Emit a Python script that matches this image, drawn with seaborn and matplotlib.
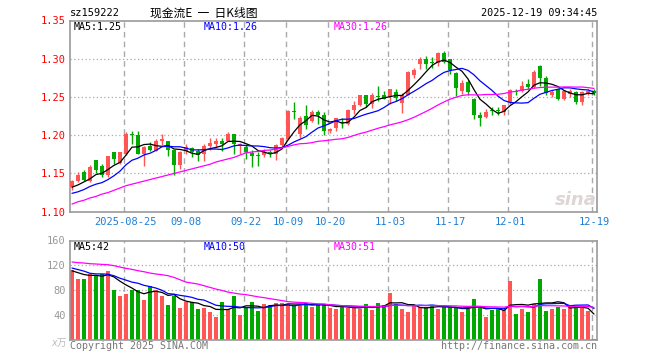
import matplotlib
matplotlib.use("Agg")
import matplotlib.pyplot as plt
import seaborn as sns
import numpy as np
import pandas as pd

# daily bars, 2025-08-12 .. 2025-12-19 (88 trading days)
opens = [1.132, 1.140, 1.152, 1.140, 1.167, 1.160, 1.148, 1.178, 1.164, 1.175,
         1.201, 1.200, 1.175, 1.186, 1.180, 1.192, 1.193, 1.181, 1.161, 1.180,
         1.183, 1.180, 1.175, 1.186, 1.189, 1.192, 1.192, 1.202, 1.186, 1.185,
         1.177, 1.1735, 1.174, 1.178, 1.176, 1.187, 1.195, 1.232, 1.201, 1.225,
         1.219, 1.231, 1.226, 1.205, 1.210, 1.2165, 1.215, 1.233, 1.240, 1.252,
         1.241, 1.251, 1.252, 1.250, 1.256, 1.242, 1.253, 1.279, 1.293, 1.300,
         1.2955, 1.295, 1.308, 1.300, 1.281, 1.258, 1.270, 1.248, 1.226, 1.224,
         1.2325, 1.233, 1.230, 1.243, 1.258, 1.258, 1.267, 1.263, 1.291, 1.275,
         1.253, 1.260, 1.248, 1.254, 1.256, 1.244, 1.254, 1.258]
highs = [1.142, 1.152, 1.154, 1.161, 1.167, 1.162, 1.173, 1.178, 1.178, 1.204,
         1.205, 1.205, 1.186, 1.191, 1.195, 1.202, 1.193, 1.181, 1.180, 1.188,
         1.185, 1.182, 1.188, 1.196, 1.197, 1.197, 1.204, 1.202, 1.190, 1.188,
         1.181, 1.178, 1.182, 1.181, 1.189, 1.198, 1.233, 1.243, 1.225, 1.239,
         1.233, 1.233, 1.230, 1.209, 1.223, 1.222, 1.234, 1.245, 1.253, 1.253,
         1.255, 1.265, 1.258, 1.261, 1.260, 1.255, 1.284, 1.288, 1.302, 1.304,
         1.302, 1.309, 1.310, 1.300, 1.283, 1.272, 1.272, 1.249, 1.231, 1.234,
         1.237, 1.237, 1.240, 1.260, 1.261, 1.271, 1.273, 1.285, 1.292, 1.277,
         1.259, 1.262, 1.259, 1.260, 1.258, 1.258, 1.261, 1.261]
lows = [1.128, 1.139, 1.140, 1.139, 1.151, 1.146, 1.146, 1.163, 1.162, 1.174,
        1.189, 1.175, 1.160, 1.179, 1.179, 1.187, 1.173, 1.148, 1.156, 1.176,
        1.172, 1.166, 1.166, 1.181, 1.185, 1.179, 1.192, 1.175, 1.175, 1.169,
        1.158, 1.160, 1.171, 1.172, 1.168, 1.185, 1.194, 1.221, 1.196, 1.208,
        1.217, 1.215, 1.200, 1.203, 1.206, 1.210, 1.214, 1.228, 1.238, 1.237,
        1.236, 1.245, 1.247, 1.241, 1.245, 1.229, 1.252, 1.275, 1.286, 1.286,
        1.288, 1.291, 1.295, 1.280, 1.251, 1.254, 1.252, 1.221, 1.212, 1.222,
        1.226, 1.226, 1.226, 1.241, 1.252, 1.256, 1.260, 1.262, 1.265, 1.252,
        1.250, 1.246, 1.246, 1.250, 1.241, 1.240, 1.252, 1.252]
closes = [1.140, 1.148, 1.142, 1.159, 1.154, 1.148, 1.173, 1.169, 1.178, 1.202,
          1.200, 1.175, 1.184, 1.181, 1.192, 1.195, 1.181, 1.161, 1.178, 1.184,
          1.178, 1.174, 1.186, 1.190, 1.192, 1.189, 1.202, 1.188, 1.188, 1.178,
          1.173, 1.173, 1.178, 1.176, 1.187, 1.196, 1.232, 1.231, 1.222, 1.214,
          1.231, 1.227, 1.206, 1.208, 1.222, 1.216, 1.233, 1.239, 1.252, 1.241,
          1.253, 1.250, 1.248, 1.260, 1.249, 1.253, 1.283, 1.285, 1.300, 1.293,
          1.295, 1.307, 1.296, 1.285, 1.262, 1.268, 1.257, 1.226, 1.222, 1.231,
          1.232, 1.232, 1.239, 1.259, 1.257, 1.265, 1.263, 1.283, 1.275, 1.255,
          1.257, 1.248, 1.258, 1.258, 1.244, 1.256, 1.258, 1.255]
# volume in 万 (10k)
volume = [112.8, 98.2, 98.2, 105.8, 103.6, 105.8, 110.1, 80.3, 71.1, 73.8,
          80.3, 80.3, 64.1, 85.7, 79.2, 71.1, 56.0, 71.1, 51.6, 60.3,
          61.1, 49.5, 51.6, 44.1, 37.0, 60.0, 49.5, 69.5, 39.8, 53.3,
          60.0, 46.3, 57.6, 56.0, 58.4, 58.4, 57.6, 56.0, 56.0, 58.4,
          53.3, 56.0, 56.0, 51.6, 49.5, 53.3, 51.6, 51.6, 49.5, 57.6,
          47.9, 59.2, 56.0, 75.5, 57.0, 49.5, 44.1, 54.6, 53.3, 53.3,
          54.6, 49.5, 53.3, 51.6, 51.6, 44.1, 49.5, 65.7, 51.6, 37.0,
          47.9, 49.5, 47.9, 94.9, 41.4, 49.5, 44.1, 57.6, 98.2, 46.3,
          49.5, 53.3, 49.5, 56.0, 50.8, 50.8, 46.3, 1.5]

# moving-average values for the first days (history before the window)
price_ma5_head = [1.132, 1.135, 1.139, 1.143]
price_ma10_head = [1.124, 1.126, 1.129, 1.133, 1.136, 1.138, 1.142, 1.147, 1.153]
price_ma30_head = [1.110, 1.113, 1.115, 1.118, 1.120, 1.123, 1.125, 1.128, 1.131, 1.134,
                   1.136, 1.138, 1.140, 1.142, 1.144, 1.146, 1.148, 1.150, 1.152, 1.154,
                   1.156, 1.158, 1.160, 1.162, 1.165, 1.167, 1.169, 1.171, 1.174]
vol_ma5_head = [111.0, 108.0, 105.0, 103.5]
vol_ma10_head = [115.5, 113.0, 110.5, 107.0, 106.0, 106.0, 105.5, 103.0, 99.0]
vol_ma30_head = [125.3, 124.2, 123.6, 122.5, 122.0, 121.4, 120.9, 119.3, 117.1, 115.0,
                 113.3, 111.2, 109.5, 107.4, 105.8, 104.7, 103.1, 100.4, 96.6, 92.8,
                 91.2, 89.6, 86.9, 84.2, 81.5, 79.3, 76.6, 75.0, 73.4]

tick_pos = [9, 19, 29, 36, 43, 53, 63, 73, 87]
tick_labels = ['2025-08-25', '09-08', '09-22', '10-09', '10-20',
               '11-03', '11-17', '12-01', '12-19']

RED = '#FF5555'
GREEN = '#00A800'
GRID = '#AAAAAA'
W, H = 660, 360


def moving(values, n, head):
    s = pd.Series(values).rolling(n).mean().to_numpy()
    s[:n - 1] = head
    return s


def draw_grid(ax, yticks):
    for t in tick_pos:
        ax.axvline(t - 0.3, color=GRID, lw=1.0, ls=(0, (4, 3)), zorder=0)
    for y in yticks:
        ax.axhline(y, color=GRID, lw=0.9, ls=(0, (1, 2)), zorder=0)
    for s in ax.spines.values():
        s.set_color('#999999')
        s.set_linewidth(1.2)
    ax.tick_params(length=0)


sns.set_style("white")
plt.rcParams['font.family'] = ['DejaVu Sans Mono', 'Noto Sans CJK SC']

idx = np.arange(len(closes))
o, h, l, c = map(np.array, (opens, highs, lows, closes))
up = c >= o
colors = np.where(up, RED, GREEN)

fig = plt.figure(figsize=(6.6, 3.6), dpi=100)
ax = fig.add_axes([70 / W, 1 - 211.7 / H, 527 / W, 191.2 / H])
axv = fig.add_axes([70 / W, 1 - 339.5 / H, 527 / W, 99 / H])

# candles
ax.vlines(idx, l, h, colors=colors, lw=1.0, zorder=2)
body = np.maximum(np.abs(c - o), 0.0013)
ax.bar(idx, body, bottom=np.minimum(o, c), width=0.78, color=colors, lw=0, zorder=3)

for ma, col in [(moving(closes, 5, price_ma5_head), 'black'),
                (moving(closes, 10, price_ma10_head), '#0000FF'),
                (moving(closes, 30, price_ma30_head), '#FF00FF')]:
    sns.lineplot(x=idx, y=ma, color=col, lw=0.9, ax=ax, zorder=4)

ax.set_xlim(-0.33, 87.5)
ax.set_ylim(1.10, 1.35)
ax.set_yticks(np.arange(1.10, 1.351, 0.05))
ax.set_yticklabels([f'{v:.2f}' for v in np.arange(1.10, 1.351, 0.05)],
                   color='#FF0000', fontsize=7.5)
ax.set_xticks(tick_pos)
ax.set_xticklabels(tick_labels, color='#1E7FD6', fontsize=7.5)
ax.tick_params(axis='x', pad=4)
ax.tick_params(axis='y', pad=3)
draw_grid(ax, [1.15, 1.20, 1.25, 1.30])

# volume
axv.bar(idx, volume, width=0.8, color=colors, lw=0, zorder=2)
for ma, col in [(moving(volume, 5, vol_ma5_head), 'black'),
                (moving(volume, 10, vol_ma10_head), '#0000FF'),
                (moving(volume, 30, vol_ma30_head), '#FF00FF')]:
    sns.lineplot(x=idx, y=ma, color=col, lw=0.9, ax=axv, zorder=4)
axv.set_xlim(-0.33, 87.5)
axv.set_ylim(0, 160)
axv.set_yticks([40, 80, 120, 160])
axv.set_yticklabels(['40', '80', '120', '160'], color='#999999', fontsize=7.5)
axv.set_xticks([])
axv.tick_params(axis='y', pad=3)
draw_grid(axv, [40, 80, 120])


def ftext(x, y, s, **kw):
    fig.text(x / W, 1 - y / H, s, va='center', **kw)


ftext(70, 13, 'sz159222', fontsize=7.5, color='black')
ftext(150, 13, '现金流E  一  日K线图', fontsize=8.5, color='black',
      family=['Noto Sans CJK SC', 'DejaVu Sans'])
ftext(597, 13, '2025-12-19 09:34:45', fontsize=7.3, color='black', ha='right')

ftext(74, 27, 'MA5:1.25', fontsize=7.2, color='black')
ftext(204, 27, 'MA10:1.26', fontsize=7.2, color='#0000FF')
ftext(334, 27, 'MA30:1.26', fontsize=7.2, color='#FF00FF')
ftext(74, 247, 'MA5:42', fontsize=7.2, color='black')
ftext(204, 247, 'MA10:50', fontsize=7.2, color='#0000FF')
ftext(334, 247, 'MA30:51', fontsize=7.2, color='#FF00FF')

ftext(67, 343, 'x万', fontsize=7, color='#BBBBBB', ha='right', style='italic')
ftext(70, 346, 'Copyright 2025 SINA.COM', fontsize=7.2, color='#777777')
ftext(597, 346, 'http://finance.sina.com.cn', fontsize=7.2, color='#777777', ha='right')
ftext(597, 200, 'sina', fontsize=13, color='#DDD6D6', ha='right',
      style='italic', weight='bold', family='DejaVu Sans')

fig.savefig('out.png', dpi=100)
